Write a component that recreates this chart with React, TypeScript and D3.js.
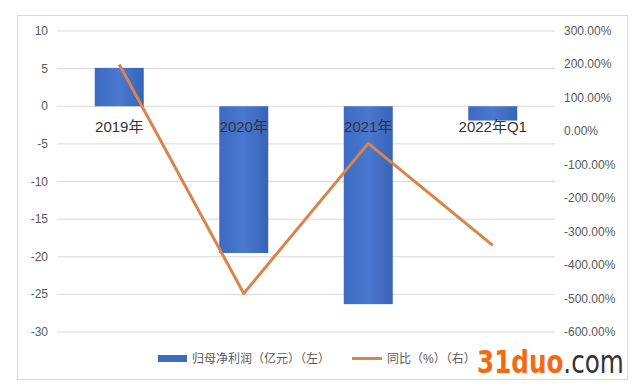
import React from "react";
import * as d3 from "d3";

const categories = ["2019年", "2020年", "2021年", "2022年Q1"];
const profit = [5.1, -19.5, -26.3, -1.9];
const yoy = [200, -485, -36, -341];
const leftTicks = [10, 5, 0, -5, -10, -15, -20, -25, -30];
const rightTicks = [300, 200, 100, 0, -100, -200, -300, -400, -500, -600];

export default function App() {
  const W = 639, H = 386;
  const x0 = 57, x1 = 555, yTop = 31, yBot = 332;
  const xc = d3.scaleBand<string>().domain(categories).range([x0, x1]);
  const yL = d3.scaleLinear().domain([-30, 10]).range([yBot, yTop]);
  const yR = d3.scaleLinear().domain([-600, 300]).range([yBot, yTop]);
  const line = d3.line<number>()
    .x((_, i) => (xc(categories[i]) as number) + xc.bandwidth() / 2)
    .y((d) => yR(d));
  const font = "'Liberation Sans', Arial, 'Noto Sans CJK SC', sans-serif";
  const bw = 49;
  return (
    <svg width={W} height={H} style={{ position: "absolute", left: 0, top: 0, fontFamily: font }}>
      <defs>
        <linearGradient id="barg" x1="0" x2="1" y1="0" y2="0">
          <stop offset="0%" stopColor="#3E6BC0" />
          <stop offset="50%" stopColor="#4A78D0" />
          <stop offset="100%" stopColor="#3964B6" />
        </linearGradient>
      </defs>
      <rect x={0} y={0} width={W} height={H} fill="#fff" />
      <rect x={17.5} y={15.5} width={610} height={364} fill="#fff" stroke="#d9d9d9" />
      {leftTicks.map((t) => (
        <line key={"g" + t} x1={x0} x2={x1} y1={yL(t)} y2={yL(t)} stroke="#d9d9d9" strokeWidth={1} />
      ))}
      {leftTicks.map((t) => (
        <text key={"l" + t} x={48} y={yL(t) + 4} textAnchor="end" fontSize={12} fill="#595959">{t}</text>
      ))}
      {rightTicks.map((t) => (
        <text key={"r" + t} x={564} y={yR(t) + 4} textAnchor="start" fontSize={12} fill="#595959">{t.toFixed(2) + "%"}</text>
      ))}
      {profit.map((v, i) => {
        const cx = (xc(categories[i]) as number) + xc.bandwidth() / 2;
        const y0 = yL(0), y1 = yL(v);
        return (
          <rect key={"b" + i} x={cx - bw / 2} y={Math.min(y0, y1)} width={bw} height={Math.abs(y1 - y0)}
            fill="url(#barg)" />
        );
      })}
      <path d={line(yoy) || ""} fill="none" stroke="#D9844C" strokeWidth={3} strokeLinejoin="round" />
      {categories.map((c, i) => (
        <text key={"c" + i} x={(xc(c) as number) + xc.bandwidth() / 2} y={yL(0) + 26} textAnchor="middle" fontSize={15} fill="#333">{c}</text>
      ))}
      <rect x={158} y={355} width={29} height={7} fill="#3E6BC0" />
      <text x={192} y={363} fontSize={12} fill="#595959">归母净利润（亿元）（左）</text>
      <line x1={352} x2={382} y1={358.5} y2={358.5} stroke="#D9844C" strokeWidth={3} />
      <text x={387} y={363} fontSize={12} fill="#595959">同比（%）（右）</text>
      <text transform="translate(477,373) scale(0.77,1)" fontSize={32} fontWeight="bold"
        fontFamily="'DejaVu Sans', sans-serif" fill="#F26B12">31duo<tspan fill="#333" fontWeight="normal">.com</tspan></text>
    </svg>
  );
}
